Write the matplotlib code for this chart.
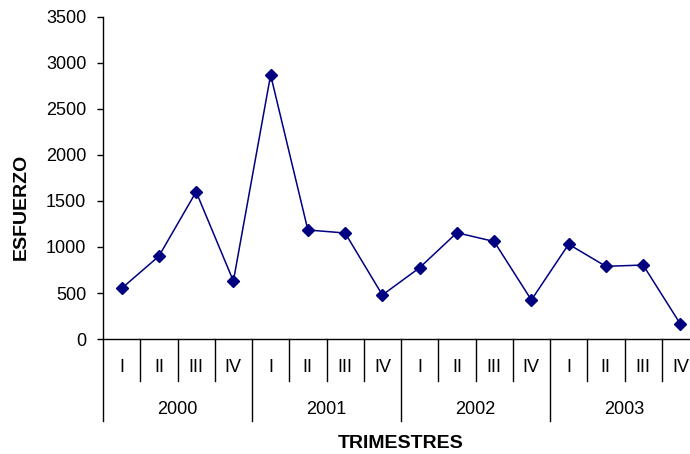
import matplotlib
matplotlib.use("Agg")
import matplotlib.pyplot as plt
import matplotlib.transforms as mtransforms

plt.rcParams['font.family'] = ['Liberation Sans', 'DejaVu Sans']

years = ['2000', '2001', '2002', '2003']
quarters = ['I', 'II', 'III', 'IV']
esfuerzo = [550, 900, 1600, 630,
            2870, 1185, 1152, 478,
            775, 1155, 1060, 424,
            1030, 790, 804, 163]

fig = plt.figure(figsize=(6.9, 4.54), dpi=100)
# axes reaches a bit past the right edge, as in the original
ax = fig.add_axes([103 / 690, 115 / 454, 596 / 690, 322 / 454])

x = [i + 0.5 for i in range(len(esfuerzo))]
ax.plot(x, esfuerzo, color='#000080', linewidth=1.1,
        marker='D', markersize=6.2, markerfacecolor='#000080',
        markeredgecolor='#000080', clip_on=False)

ax.set_xlim(0, 16)
ax.set_ylim(0, 3500)
ax.set_yticks(range(0, 3501, 500))
ax.tick_params(axis='y', direction='out', length=4.5, width=1.0,
               pad=7.5, labelsize=13)
ax.set_xticks([])

for s in ['top', 'right']:
    ax.spines[s].set_visible(False)
ax.spines['left'].set_linewidth(1.0)
ax.spines['bottom'].set_linewidth(1.0)

# multi level category axis
trans = mtransforms.blended_transform_factory(ax.transData, ax.transAxes)
q_len = 42 / 322
y_len = 82 / 322
for k in range(17):
    depth = y_len if k % 4 == 0 else q_len
    ax.plot([k, k], [0, -depth], color='black', linewidth=1.0,
            transform=trans, clip_on=False)

for i in range(16):
    ax.text(i + 0.5, -28.5 / 322, quarters[i % 4], transform=trans,
            ha='center', va='center', fontsize=13)
for j, yr in enumerate(years):
    ax.text(j * 4 + 2, -70 / 322, yr, transform=trans,
            ha='center', va='center', fontsize=13)

ax.text(8, -104 / 322, 'TRIMESTRES', transform=trans, ha='center',
        va='center', fontsize=14, fontweight='bold')
fig.text(21 / 690, 1 - 207 / 454, 'ESFUERZO', rotation=90, ha='center',
         va='center', fontsize=14, fontweight='bold')

fig.savefig('out.png', dpi=100)
